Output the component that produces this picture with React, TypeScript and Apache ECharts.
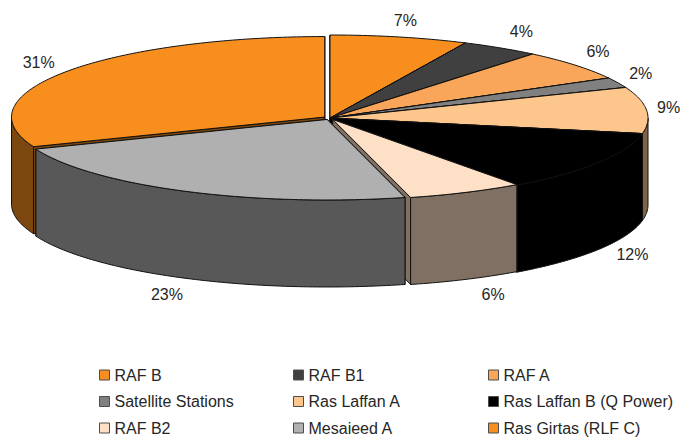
import React, { useEffect, useRef } from "react";
import * as echarts from "echarts";

// Share of each station, in percent, clockwise from twelve o'clock.
const stations = [
  "RAF B",
  "RAF B1",
  "RAF A",
  "Satellite Stations",
  "Ras Laffan A",
  "Ras Laffan B (Q Power)",
  "RAF B2",
  "Mesaieed A",
  "Ras Girtas (RLF C)",
];
const shares = [7, 4, 6, 2, 9, 12, 6, 23, 31];
const colors = [
  "#F78E1E",
  "#404040",
  "#F9A65A",
  "#808080",
  "#FDC68C",
  "#000000",
  "#FDE0C5",
  "#B0B0B0",
  "#F78E1E",
];
// How far each slice is pulled away from the hub, as a fraction of the radius.
const pulledOut = [0, 0, 0, 0, 0, 0, 0.02, 0.02, 0.02];
// Back-to-front painting rank of each slice.
const paintRank = [1, 2, 3, 4, 6, 7, 8, 9, 5];
// Nudge of each percentage label away from the rim point of its slice.
const labelNudge = [
  [6, -16],
  [21, -16],
  [23, -14],
  [23, -9],
  [22, -3],
  [34, 5],
  [27, 15],
  [-18, 16],
  [-27, -9],
];

const CX = 330;
const CY = 118;
const RX = 318;
const RY = 83;
const DEPTH = 87;
// Pulled-out slices are drawn a touch smaller so the pie keeps its footprint.
const PULLED_SCALE_X = 0.985;
const PULLED_SCALE_Y = 0.97;
const FONT = '16px "Liberation Sans", Arial, sans-serif';
const INK = "#262626";
const EDGE = "#111111";

const total = shares.reduce((a, b) => a + b, 0);
const starts = shares.map((_, i) =>
  shares.slice(0, i).reduce((a, b) => a + b, 0)
);

const halfTone = (hex: string) => {
  const n = parseInt(hex.slice(1), 16);
  const ch = (s: number) => Math.round(((n >> s) & 255) * 0.5);
  return `rgb(${ch(16)},${ch(8)},${ch(0)})`;
};

const renderSlice = (index: number) => (_params: any, api: any) => {
  const a0 = (api.value(1) / total) * Math.PI * 2;
  const a1 = ((api.value(1) + api.value(0)) / total) * Math.PI * 2;
  const mid = (a0 + a1) / 2;
  const pull = pulledOut[index];
  const hubX = CX + RX * pull * Math.sin(mid);
  const hubY = CY - RY * pull * Math.cos(mid);
  const rx = pull > 0 ? RX * PULLED_SCALE_X : RX;
  const ry = pull > 0 ? RY * PULLED_SCALE_Y : RY;
  const rim = (a: number, drop = 0): number[] => [
    hubX + rx * Math.sin(a),
    hubY - ry * Math.cos(a) + drop,
  ];
  const arc = (from: number, to: number, drop = 0) => {
    const steps = Math.max(2, Math.ceil(Math.abs(to - from) / 0.015));
    const out: number[][] = [];
    for (let k = 0; k <= steps; k++) {
      out.push(rim(from + ((to - from) * k) / steps, drop));
    }
    return out;
  };
  const side = halfTone(colors[index]);
  const shell = (points: number[][], fill: string) => ({
    type: "polygon",
    shape: { points },
    style: { fill, stroke: EDGE, lineWidth: 1, lineJoin: "round" },
  });
  const radialWall = (a: number) =>
    shell(
      [
        [hubX, hubY],
        rim(a),
        rim(a, DEPTH),
        [hubX, hubY + DEPTH],
      ],
      side
    );

  const children: any[] = [radialWall(a0), radialWall(a1)];

  // The curved wall only shows along the front half of the rim.
  const frontFrom = Math.max(a0, Math.PI / 2);
  const frontTo = Math.min(a1, (Math.PI * 3) / 2);
  if (frontTo > frontFrom) {
    children.push(
      shell(
        [
          ...arc(frontFrom, frontTo),
          ...arc(frontTo, frontFrom, DEPTH),
        ],
        side
      )
    );
  }

  children.push(shell([[hubX, hubY], ...arc(a0, a1)], colors[index]));

  const inFront = Math.cos(mid) < 0;
  const anchor = rim(mid, inFront ? DEPTH : 0);
  children.push({
    type: "text",
    style: {
      text: `${api.value(0)}%`,
      x: anchor[0] + labelNudge[index][0],
      y: anchor[1] + labelNudge[index][1],
      fill: INK,
      font: FONT,
      align: "center",
      verticalAlign: "middle",
    },
  });

  return { type: "group", children };
};

const legendColumn = (names: string[], left: number) => ({
  data: names,
  orient: "vertical" as const,
  left,
  top: 366,
  width: 190,
  height: 72,
  padding: 0,
  icon: "rect",
  itemWidth: 10,
  itemHeight: 10,
  itemGap: 8.5,
  selectedMode: false,
  itemStyle: { borderColor: "#4d4d4d", borderWidth: 1 },
  textStyle: {
    color: INK,
    fontFamily: '"Liberation Sans", Arial, sans-serif',
    fontSize: 16,
    lineHeight: 18,
  },
});

export default function App() {
  const ref = useRef<HTMLDivElement>(null);

  useEffect(() => {
    const chart = echarts.init(ref.current!, undefined, { renderer: "svg" });
    chart.setOption({
      animation: false,
      backgroundColor: "#ffffff",
      legend: [
        legendColumn([stations[0], stations[3], stations[6]], 99),
        legendColumn([stations[1], stations[4], stations[7]], 293),
        legendColumn([stations[2], stations[5], stations[8]], 488),
      ],
      series: stations.map((name, i) => ({
        type: "custom",
        name,
        coordinateSystem: "none",
        silent: true,
        z: paintRank[i],
        itemStyle: { color: colors[i] },
        data: [[shares[i], starts[i]]],
        renderItem: renderSlice(i),
      })),
    });
    return () => chart.dispose();
  }, []);

  return (
    <div
      ref={ref}
      style={{ position: "absolute", left: 0, top: 0, width: 681, height: 439 }}
    />
  );
}
